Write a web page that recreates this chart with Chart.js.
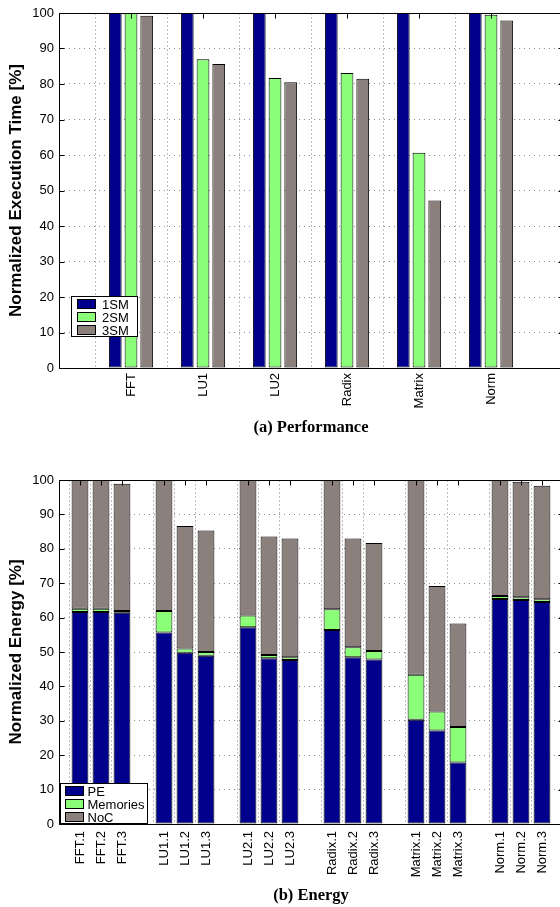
<!DOCTYPE html>
<html>
<head>
<meta charset="utf-8">
<script src="https://cdn.jsdelivr.net/npm/chart.js@4.4.1/dist/chart.umd.min.js"></script>
<style>
  html, body { margin: 0; padding: 0; overflow: hidden; background: #fff; width: 560px; height: 907px; }
  canvas { position: absolute; left: 0; }
  .caption { position: absolute; left: 59px; width: 504px; text-align: center; line-height: 19px;
    font: bold 16.5px "Liberation Serif", "Times New Roman", serif; color: #000; }
  .legend { position: absolute; background: #fff; border: 1px solid #000; box-sizing: border-box;
    font: 13px "Liberation Sans", Arial, sans-serif; color: #000; z-index: 2; }
  .legend .row { display: flex; align-items: center; height: 12.8px; white-space: nowrap; }
  .legend .sw { width: 19px; height: 10px; border: 1px solid #000; box-sizing: border-box; flex: none; }
</style>
</head>
<body>
<canvas id="perfChart" width="566" height="420" style="top:0"></canvas>
<canvas id="energyChart" width="566" height="460" style="top:430px"></canvas>
<div class="caption" style="top:417px">(a) Performance</div>
<div class="caption" style="top:885px">(b) Energy</div>
<div class="legend" id="perfLegend" style="left:71px;top:296px;width:67px;height:41px;padding:1px 0 0 5px"></div>
<div class="legend" id="energyLegend" style="left:60px;top:783px;width:88px;height:41px;padding:1px 0 0 4px"></div>
<script>
// (a) performance, normalized to 1SM
const perfLabels = ["FFT", "LU1", "LU2", "Radix", "Matrix", "Norm"];
const perf1SM = [100, 100, 100, 100, 100, 100];
const perf2SM = [100, 87.0, 81.7, 83.1, 60.6, 99.5];
const perf3SM = [99.2, 85.6, 80.5, 81.5, 47.2, 97.9];

// (b) energy breakdown, 3 runs per benchmark
const energyBenchmarks = ["FFT", "LU1", "LU2", "Radix", "Matrix", "Norm"];
const energyRuns = ["1", "2", "3"];
const energyPE = [61.6, 61.6, 61.4, 55.7, 49.8, 48.9, 57.2, 48.2, 47.7, 56.4, 48.5, 47.8, 30.3, 27.2, 17.9, 65.4, 65.1, 64.5];
const energyMem = [1.0, 1.0, 0.5, 6.2, 1.2, 1.1, 3.4, 0.9, 0.8, 6.0, 2.9, 2.5, 13.1, 5.5, 10.3, 0.9, 0.8, 0.8];
const energyNoC = [37.4, 37.4, 37.0, 38.1, 35.6, 35.3, 39.4, 34.5, 34.5, 37.6, 31.6, 31.4, 56.6, 36.5, 30.1, 33.7, 33.6, 33.0];

const yTicks = { min: 0, max: 100, step: 10 };

const NAVY = "#00008c";
const GREEN = "#8cff78";
const TAUPE = "#8c807d";

Chart.defaults.font.family = '"Liberation Sans", Arial, sans-serif';
Chart.defaults.color = "#000";

// empty slot at both ends of the axis, like the original
const padEnds = (arr) => [null, ...arr, null];

// groups of 3 with an empty slot between them
const padGroups = (arr, size) => {
  const out = [null];
  for (let i = 0; i < arr.length; i += size) {
    out.push(...arr.slice(i, i + size), null);
  }
  return out;
};

const energyLabels = energyBenchmarks.flatMap((b) => energyRuns.map((r) => `${b}.${r}`));

// box around the plot + ticks pointing inward
const framePlugin = {
  id: "frame",
  afterDatasetsDraw(chart) {
    const { ctx, chartArea: a, scales: { x, y } } = chart;
    const L = Math.round(a.left) + 0.5, R = Math.round(a.right) + 0.5;
    const T = Math.round(a.top) + 0.5, B = Math.round(a.bottom) + 0.5;
    ctx.save();
    ctx.strokeStyle = "#000";
    ctx.lineWidth = 1;
    ctx.beginPath();
    ctx.rect(L, T, R - L, B - T);
    y.ticks.forEach((t, i) => {
      const py = Math.round(y.getPixelForTick(i)) + 0.5;
      ctx.moveTo(L, py); ctx.lineTo(L + 5, py);
      ctx.moveTo(R, py); ctx.lineTo(R - 5, py);
    });
    x.ticks.forEach((t, i) => {
      if (!x.getLabelForValue(t.value)) return;
      const px = Math.round(x.getPixelForTick(i)) + 0.5;
      ctx.moveTo(px, T); ctx.lineTo(px, T + 5);
    });
    ctx.stroke();
    ctx.restore();
  },
};

const makeOptions = ({ title, padTop, xHeight, xPad, stacked, labels, catPct, barPct }) => ({
  responsive: false,
  animation: false,
  events: [],
  layout: { padding: { top: padTop, right: 3, bottom: 0, left: 0 } },
  datasets: { bar: { categoryPercentage: catPct, barPercentage: barPct } },
  plugins: { legend: { display: false }, tooltip: { enabled: false } },
  scales: {
    x: {
      stacked,
      offset: false,
      grid: {
        drawTicks: false,
        color: (ctx) => (ctx.tick && labels[ctx.index] ? "#bdbdbd" : "rgba(0,0,0,0)"),
      },
      border: { display: false, dash: [2, 2] },
      ticks: {
        autoSkip: false,
        minRotation: 90,
        maxRotation: 90,
        padding: xPad,
        font: { size: 13 },
        color: "#000",
      },
      afterFit: (scale) => {
        scale.height = xHeight;
        scale.paddingLeft = 0;
        scale.paddingRight = 0;
      },
    },
    y: {
      stacked,
      min: yTicks.min,
      max: yTicks.max,
      grid: { drawTicks: false, color: "#8a8a8a" },
      border: { display: false, dash: [1, 4] },
      ticks: { stepSize: yTicks.step, padding: 5, font: { size: 13 }, color: "#000" },
      title: {
        display: true,
        text: title,
        font: { size: 17, weight: "bold" },
        color: "#000",
        padding: { top: 6, bottom: 0 },
      },
      afterFit: (scale) => {
        scale.width = 59;
        scale.paddingTop = 0;
        scale.paddingBottom = 0;
      },
    },
  },
});

const barStyle = (label, data, color) => ({
  label,
  data,
  backgroundColor: color,
  borderColor: "#000",
  borderWidth: 1,
  borderSkipped: false,
});

const perfAxisLabels = ["", ...perfLabels, ""];
const perfChart = new Chart(document.getElementById("perfChart"), {
  type: "bar",
  data: {
    labels: perfAxisLabels,
    datasets: [
      barStyle("1SM", padEnds(perf1SM), NAVY),
      barStyle("2SM", padEnds(perf2SM), GREEN),
      barStyle("3SM", padEnds(perf3SM), TAUPE),
    ],
  },
  options: makeOptions({
    title: "Normalized Execution Time [%]",
    padTop: 13,
    xHeight: 52,
    xPad: 5,
    stacked: false,
    labels: perfAxisLabels,
    catPct: 0.656,
    barPct: 0.81,
  }),
  plugins: [framePlugin],
});

const energyAxisLabels = padGroups(energyLabels, 3).map((l) => l || "");
const energyChart = new Chart(document.getElementById("energyChart"), {
  type: "bar",
  data: {
    labels: energyAxisLabels,
    datasets: [
      barStyle("PE", padGroups(energyPE, 3), NAVY),
      barStyle("Memories", padGroups(energyMem, 3), GREEN),
      barStyle("NoC", padGroups(energyNoC, 3), TAUPE),
    ],
  },
  options: makeOptions({
    title: "Normalized Energy [%]",
    padTop: 50,
    xHeight: 66,
    xPad: 7,
    stacked: true,
    labels: energyAxisLabels,
    catPct: 1,
    barPct: 0.8,
  }),
  plugins: [framePlugin],
});

// legends as boxes inside the plots, built from the datasets
const buildLegend = (chart, el, gap) => {
  chart.data.datasets.forEach((ds) => {
    const row = document.createElement("div");
    row.className = "row";
    const sw = document.createElement("span");
    sw.className = "sw";
    sw.style.background = ds.backgroundColor;
    sw.style.marginRight = `${gap}px`;
    const txt = document.createElement("span");
    txt.textContent = ds.label;
    row.append(sw, txt);
    el.appendChild(row);
  });
};

buildLegend(perfChart, document.getElementById("perfLegend"), 6);
buildLegend(energyChart, document.getElementById("energyLegend"), 3.5);
</script>
</body>
</html>
